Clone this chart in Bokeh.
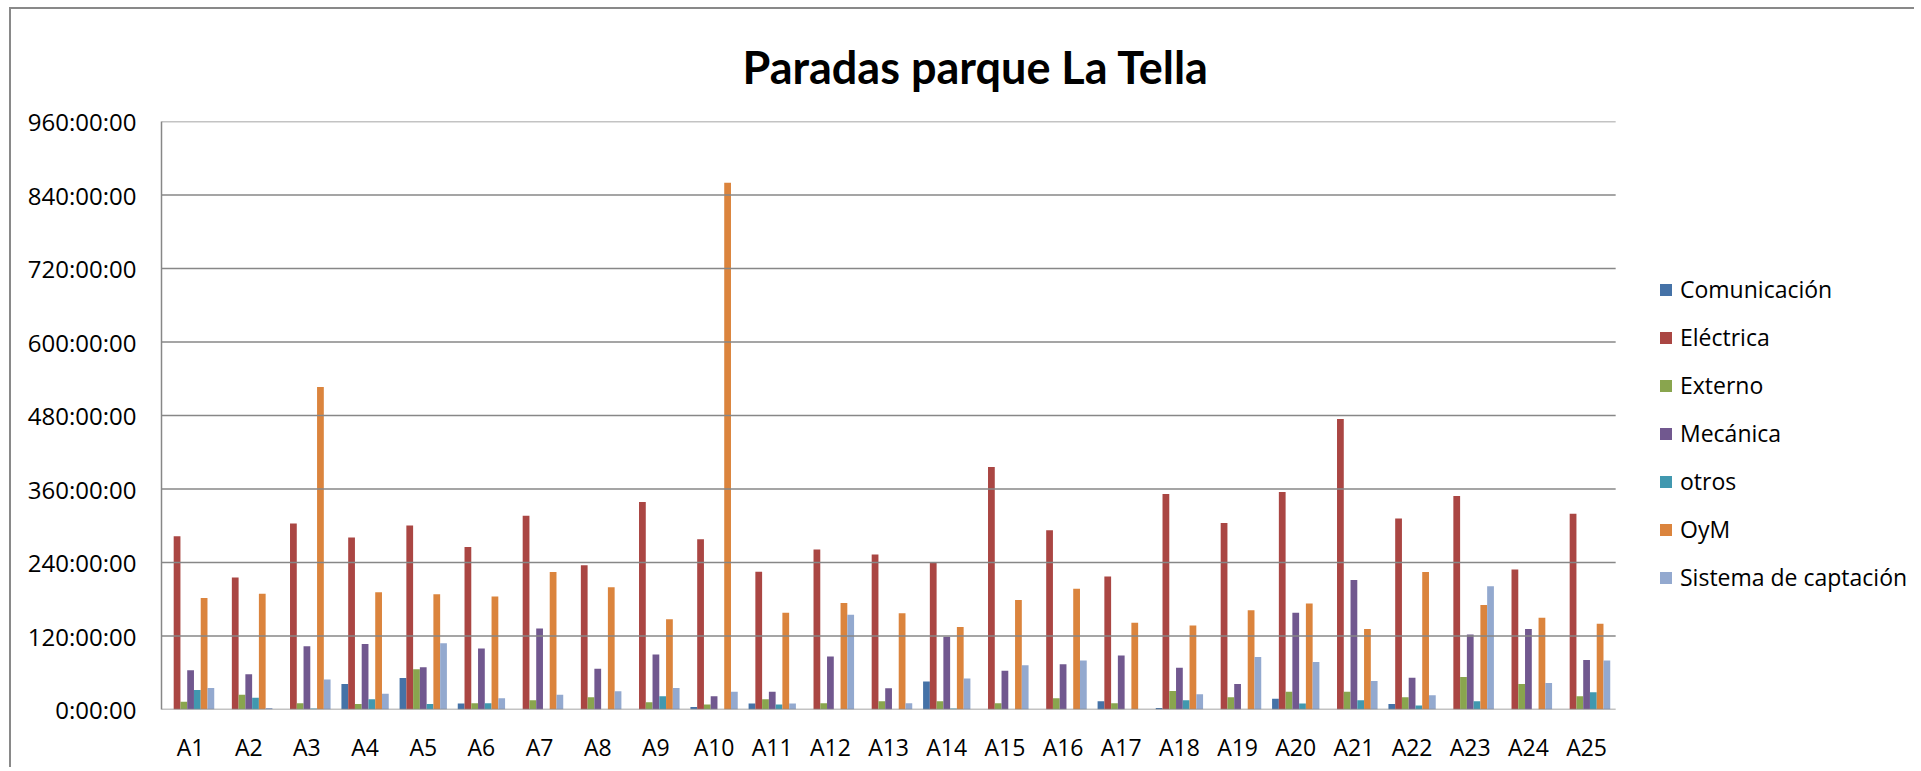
from bokeh.plotting import figure
from bokeh.models import Range1d, FixedTicker, CustomJSTickFormatter, Legend, LegendItem, Title, ColumnDataSource
from bokeh.embed import file_html
from bokeh.resources import INLINE

categories = ["A%d" % i for i in range(1, 26)]
series_names = ["Comunicación", "Eléctrica", "Externo", "Mecánica", "otros", "OyM", "Sistema de captación"]
colors = ["#4572A7", "#AA4643", "#89A54E", "#71588F", "#4198AF", "#DB843D", "#93A9CF"]

# values in hours
comunicacion = [0, 0, 0, 41.7, 51.3, 9.6, 0, 0, 0, 4, 9.6, 0, 0, 45.7, 0, 0, 13.6, 2.4, 0, 17.6, 0, 8.8, 0, 0, 0]
electrica = [283, 215.5, 303.7, 281, 300.5, 265.2, 316.5, 235.6, 338.9, 278, 225, 261.2, 253.2, 240.4, 395.8,
             292.5, 217.1, 351.8, 304.5, 355, 474.4, 311.7, 348.6, 228.4, 319.7]
externo = [12.8, 24, 10.4, 8.8, 65.7, 10.4, 15.2, 20, 12, 8, 16.8, 10.4, 13.6, 13.6, 10.4, 18.4, 10.4, 30.4, 20,
           28.8, 28.8, 20, 52.9, 41.7, 21.6]
mecanica = [64, 57.7, 103.4, 107, 68.9, 99.4, 132.2, 66.5, 89.7, 21.6, 28.8, 86.5, 34.5, 118.6, 63.3, 73.7, 88.1,
            68.1, 41.7, 157.9, 211.5, 52, 122.6, 131.4, 80.9]
otros = [32, 19, 1.5, 16.8, 8.8, 10.4, 0, 0, 21.6, 0, 8, 0, 0, 1.6, 0, 0, 0, 15.2, 0, 9.6, 15.2, 6.4, 13.6, 0, 28]
oym = [182, 189, 526.4, 191.5, 188.3, 184.3, 224.4, 199.5, 147.4, 859.8, 157.9, 173.9, 157, 134.6, 178.7, 197.1,
       141.8, 137, 161.9, 173, 131.4, 224.4, 170.7, 149.8, 140.2]
sistema = [35, 2.4, 48.9, 25.6, 108.2, 18.4, 24, 29.6, 35.3, 28.8, 9.6, 154.6, 10.4, 50.5, 72.1, 80.1, 0, 24.8,
           85.7, 77.7, 46.5, 23.2, 201.1, 43.3, 80.1]
y_ticks = [0, 120, 240, 360, 480, 600, 720, 840, 960]

series_values = [comunicacion, electrica, externo, mecanica, otros, oym, sistema]
n = len(categories)
centers = [i + 0.5 for i in range(n)]

GRID = "#878787"
# x range extends beyond the 25 categories to leave room for the legend
p = figure(x_range=Range1d(0, 30), y_range=Range1d(0, 960), width=1905, height=760,
           output_backend="svg", toolbar_location=None,
           min_border_left=150, min_border_right=10, min_border_top=112, min_border_bottom=60,
           background_fill_color="white", border_fill_color="white")
p.styles = {"position": "absolute", "left": "9px", "top": "7px",
            "border-left": "2px solid #898989", "border-top": "2px solid #898989"}
p.outline_line_color = None

bw = 0.1162
items = []
for i, (name, c) in enumerate(zip(series_names, colors)):
    xs = [cx + (i - 3) * bw for cx in centers]
    src_i = ColumnDataSource({"x": xs, "top": series_values[i]})
    r = p.vbar(x="x", top="top", bottom=0, width=bw, source=src_i, fill_color=c, line_color=None)
    items.append(LegendItem(label=name, renderers=[r]))

# horizontal gridlines spanning only the category area
p.segment(x0=[0] * len(y_ticks), x1=[n] * len(y_ticks), y0=y_ticks, y1=y_ticks,
          line_color=GRID, line_width=1.5)

p.xgrid.visible = False
p.ygrid.visible = False

p.yaxis.ticker = FixedTicker(ticks=y_ticks)
p.yaxis.formatter = CustomJSTickFormatter(code="return Math.round(tick) + ':00:00';")
p.yaxis.major_tick_line_color = None
p.yaxis.minor_tick_line_color = None
p.yaxis.major_tick_out = 0
p.yaxis.major_tick_in = 0
p.yaxis.major_label_standoff = 25
p.yaxis.axis_line_color = GRID
p.yaxis.axis_line_width = 1.5
p.yaxis.major_label_text_font = "Open Sans"
p.yaxis.major_label_text_font_size = "24px"
p.yaxis.major_label_text_color = "#000000"

p.xaxis.ticker = FixedTicker(ticks=centers)
p.xaxis.major_label_overrides = {c: lab for c, lab in zip(centers, categories)}
p.xaxis.major_tick_line_color = None
p.xaxis.minor_tick_line_color = None
p.xaxis.major_tick_out = 0
p.xaxis.major_tick_in = 0
p.xaxis.major_label_standoff = 21
p.xaxis.axis_line_color = None
p.xaxis.major_label_text_font = "Open Sans"
p.xaxis.major_label_text_font_size = "23px"
p.xaxis.major_label_text_color = "#000000"

legend = Legend(items=items, location=(1497, 116), padding=0, margin=0,
                border_line_color=None, background_fill_alpha=0,
                glyph_width=15, glyph_height=15, label_height=24, spacing=16,
                label_standoff=7, label_text_font="Open Sans", label_text_font_size="23px",
                label_text_color="#000000")
p.add_layout(legend, "center")

title = Title(text="Paradas parque La Tella", align="left", offset=581, standoff=55,
              text_font="Lato", text_font_style="bold", text_font_size="45px", text_color="#000000")
p.add_layout(title, "above")

open("out.html", "w").write(file_html(p, INLINE))
